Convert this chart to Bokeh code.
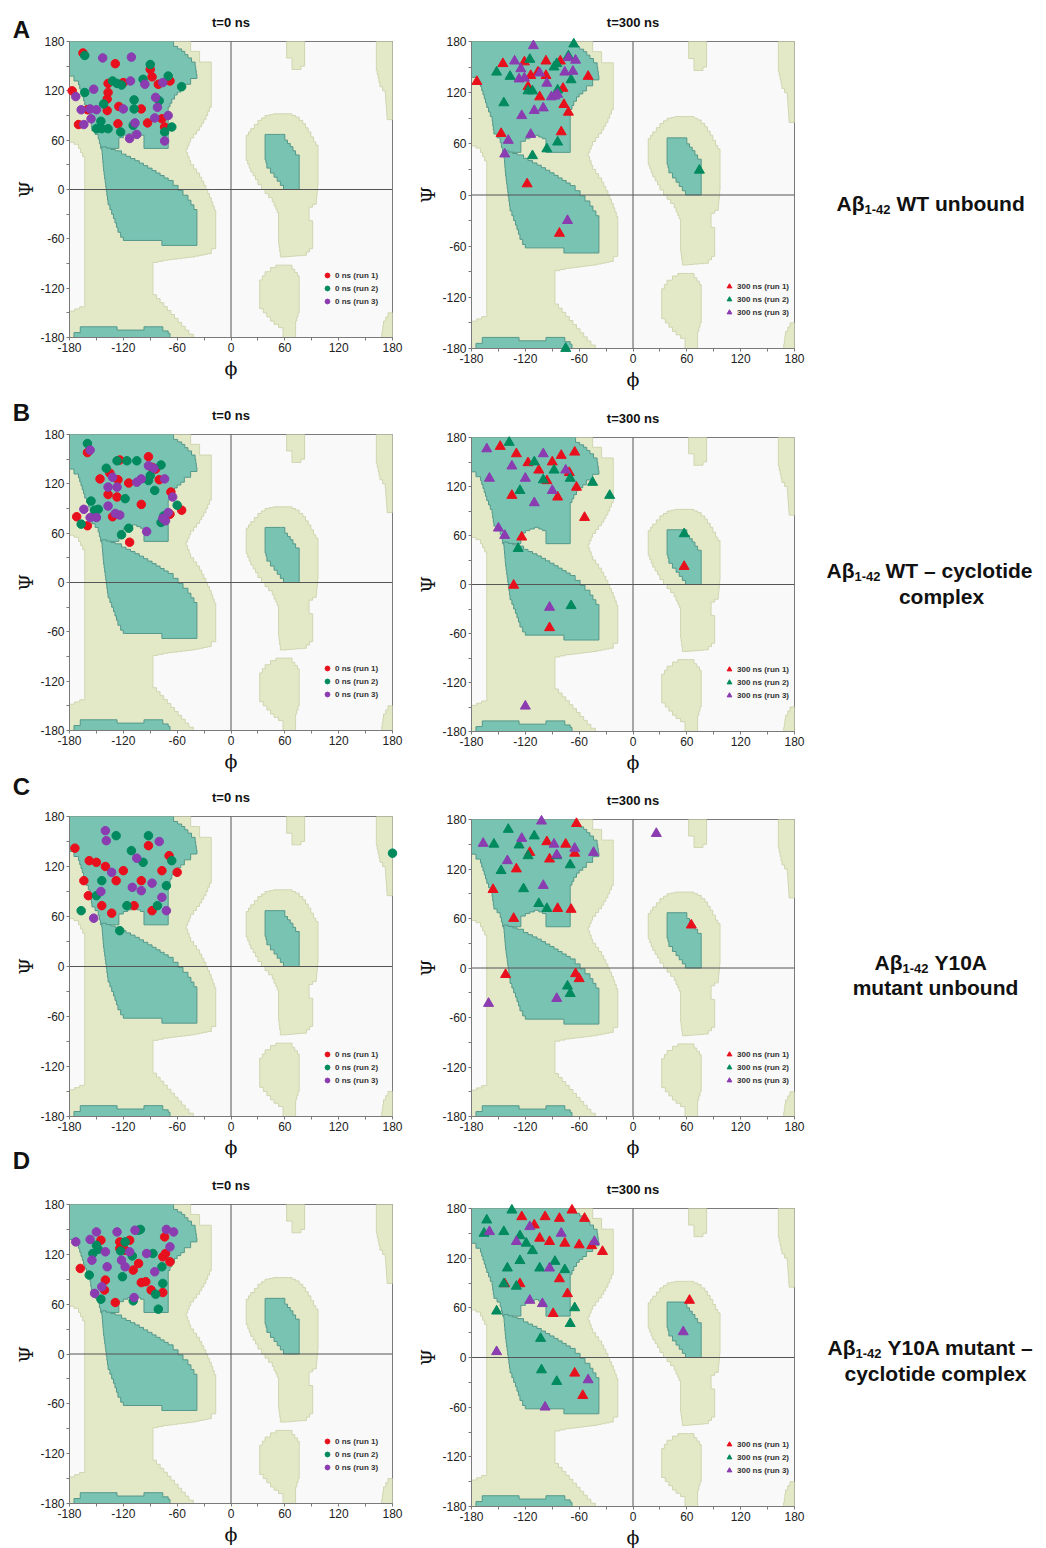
from bokeh.plotting import figure
from bokeh.models import Range1d, Label, Span, FixedTicker, Legend, LegendItem
from bokeh.layouts import row, column
from bokeh.embed import file_html
from bokeh.resources import INLINE

# ---------------- data (phi, psi in degrees) ----------------
# Panel A: Abeta1-42 WT unbound
A0_r1_phi = [-165, -129, -177, -137, -120, -137, -138, -138, -125, -100, -88, -90, -68, -81, -170, -126, -93, -77, -74, -160]
A0_r1_psi = [166, 153, 120, 129, 130, 118, 110, 96, 101, 98, 137, 146, 132, 128, 79, 80, 81, 86, 76, 97]
A0_r2_phi = [-163, -90, -127, -122, -163, -70, -55, -108, -108, -142, -145, -150, -137, -123, -109, -74, -66, -98, -144, -132, -80]
A0_r2_psi = [163, 152, 129, 127, 118, 138, 125, 109, 98, 104, 83, 74, 74, 70, 78, 70, 76, 134, 74, 132, 108]
A0_r3_phi = [-143, -111, -112, -153, -173, -167, -157, -150, -156, -164, -120, -96, -76, -84, -82, -70, -85, -107, -113, -105, -74]
A0_r3_psi = [160, 161, 132, 122, 113, 97, 98, 97, 86, 79, 98, 128, 130, 112, 100, 90, 87, 81, 62, 67, 59]

A3_r1_phi = [-174, -145, -121, -97, -81, -114, -106, -97, -117, -104, -78, -77, -72, -80, -147, -50, -118, -82]
A3_r1_psi = [133, 154, 156, 157, 157, 140, 144, 140, 127, 115, 125, 106, 97, 74, 72, 139, 13, -45]
A3_r2_phi = [-66, -152, -137, -115, -144, -85, -72, -117, -112, -84, -69, -96, -84, -112, 74, -75, -88]
A3_r2_psi = [177, 144, 139, 159, 108, 154, 163, 122, 122, 123, 135, 54, 62, 46, 29, -180, 150]
A3_r3_phi = [-111, -132, -125, -127, -121, -104, -96, -91, -87, -84, -76, -72, -64, -67, -110, -124, -100, -114, -139, -143, -73]
A3_r3_psi = [175, 157, 148, 136, 137, 143, 131, 115, 116, 118, 144, 161, 158, 145, 99, 93, 102, 71, 64, 48, -30]

# Panel B: Abeta1-42 WT - cyclotide complex
B0_r1_phi = [-160, -124, -92, -146, -135, -126, -114, -137, -127, -100, -80, -84, -67, -68, -55, -172, -160, -132, -113, -88]
B0_r1_psi = [158, 149, 153, 126, 133, 125, 121, 107, 104, 95, 125, 138, 110, 83, 88, 80, 69, 80, 49, 140]
B0_r2_phi = [-160, -139, -127, -116, -105, -78, -85, -92, -156, -148, -167, -118, -114, -122, -75, -78, -60, -152, -90]
B0_r2_psi = [169, 139, 148, 148, 148, 143, 112, 124, 99, 89, 71, 102, 66, 58, 81, 73, 94, 88, 130]
B0_r3_phi = [-157, -137, -127, -164, -157, -150, -137, -124, -129, -105, -100, -92, -86, -74, -65, -73, -70, -94, -132, -76]
B0_r3_psi = [161, 116, 116, 89, 79, 79, 93, 82, 84, 122, 126, 142, 139, 126, 104, 75, 85, 62, 128, 78]

B3_r1_phi = [-148, -130, -117, -96, -80, -65, -84, -63, -54, -71, -135, -124, -133, -93, 57, -105, -90]
B3_r1_psi = [169, 160, 149, 127, 158, 162, 107, 119, 82, 137, 109, 58, -1, -53, 22, 140, 150]
B3_r2_phi = [-138, -110, -88, -126, -128, -69, -26, 57, -100, -70, -45]
B3_r2_psi = [174, 150, 140, 115, 44, -26, 109, 62, 128, 130, 125]
B3_r3_phi = [-163, -150, -143, -93, -120, -120, -135, -110, -90, -75, -160, -100]
B3_r3_psi = [166, 69, 60, -28, -149, 130, 145, 100, 115, 140, 130, 160]

# Panel C: Abeta1-42 Y10A mutant unbound
C0_r1_phi = [-174, -158, -150, -164, -159, -144, -133, -92, -77, -100, -108, -88, -60, -69, -120, -128, -140]
C0_r1_psi = [142, 127, 125, 103, 85, 73, 64, 145, 115, 103, 73, 67, 113, 133, 115, 103, 120]
C0_r2_phi = [-128, -92, -111, -144, -150, -167, -116, -124, -72, -82, -98, -66, 180]
C0_r2_psi = [157, 157, 139, 103, 85, 67, 73, 43, 97, 73, 125, 127, 136]
C0_r3_phi = [-140, -139, -133, -77, -72, -100, -153, -110, -88, -145, -105, -80]
C0_r3_psi = [163, 151, 113, 83, 67, 91, 58, 95, 100, 90, 130, 150]

C3_r1_phi = [-63, -156, -133, -84, -69, -93, -65, -142, -64, -60, 65, -96, -75, -115, -130]
C3_r1_psi = [175, 95, 60, 72, 71, 132, 139, -8, -7, -13, 52, 153, 150, 140, 120]
C3_r2_phi = [-139, -127, -117, -147, -122, -105, -96, -73, -70, -85, -70, -155, -110]
C3_r2_psi = [168, 149, 136, 118, 96, 78, 72, -22, -31, 136, 125, 150, 160]
C3_r3_phi = [-167, -124, -102, -88, -85, -65, -44, -161, 26, -85, -100, -140]
C3_r3_psi = [151, 157, 178, 150, 137, 145, 140, -43, 163, -37, 100, 130]

# Panel D: Abeta1-42 Y10A mutant - cyclotide complex
D0_r1_phi = [-168, -145, -129, -141, -140, -124, -113, -109, -103, -100, -95, -89, -74, -76, -73, -68, -76, -124, -118]
D0_r1_psi = [103, 137, 62, 77, 89, 135, 137, 101, 109, 86, 87, 77, 141, 117, 121, 111, 74, 127, 125]
D0_r2_phi = [-150, -154, -158, -145, -118, -123, -103, -101, -121, -87, -77, -76, -84, -81, -109, -148, -110]
D0_r2_psi = [131, 121, 95, 66, 135, 124, 149, 150, 93, 121, 105, 85, 72, 54, 64, 126, 118]
D0_r3_phi = [-173, -157, -150, -155, -138, -152, -144, -127, -122, -113, -107, -94, -85, -72, -64, -68, -108, -140, -118]
D0_r3_psi = [135, 138, 147, 113, 105, 73, 81, 147, 113, 123, 149, 121, 99, 150, 147, 129, 68, 123, 105]

D3_r1_phi = [-124, -82, -68, -54, -104, -93, -76, -60, -46, -34, -143, -126, -82, -73, -89, 63, -65, -56, -98, -110]
D3_r1_psi = [170, 168, 178, 168, 144, 140, 138, 136, 135, 128, 89, 89, 95, 77, 53, 69, -19, -46, 170, 160]
D3_r2_phi = [-163, -166, -144, -135, -126, -119, -112, -126, -140, -144, -130, -104, -87, -76, -152, -103, -102, -85, -70, -65]
D3_r2_psi = [166, 150, 152, 178, 147, 138, 129, 117, 108, 89, 86, 108, 116, 106, 56, 23, -15, -29, 41, 60]
D3_r3_phi = [-160, -115, -93, -43, -115, -101, -152, -98, -50, 56, -80, -130]
D3_r3_psi = [152, 158, 108, 140, 69, 65, 7, -60, -27, 31, 150, 140]

RUN_LABELS_0 = ["0 ns (run 1)", "0 ns (run 2)", "0 ns (run 3)"]
RUN_LABELS_300 = ["300 ns (run 1)", "300 ns (run 2)", "300 ns (run 3)"]
TITLES = ["t=0 ns", "t=300 ns"]
PANEL_LETTERS = ["A", "B", "C", "D"]
AXIS_TICKS = [-180, -120, -60, 0, 60, 120, 180]
AXIS_TICK_LABELS = ["-180", "-120", "-60", "0", "60", "120", "180"]
AXIS_MINOR = [-150, -90, -30, 30, 90, 150]

# Ramachandran background regions (phi, psi outlines)
ALLOWED_MAIN = [(-180, 180), (-45, 180), (-45, 168), (-35, 168), (-35, 155), (-22, 155), (-22, 100), (-28, 85),
                (-35, 72), (-45, 58), (-50, 45), (-45, 30), (-35, 15), (-28, 0), (-22, -15), (-17, -30),
                (-17, -72), (-22, -78), (-40, -82), (-70, -86), (-87, -90), (-87, -128), (-47, -176), (-42, -180),
                (-180, -180), (-180, -148), (-163, -140), (-163, 40), (-170, 55), (-180, 60)]
ALLOWED_LHELIX = [(47, 92), (64, 92), (72, 88), (80, 80), (86, 70), (92, 58), (97, 50), (97, 5), (95, -18),
                  (87, -25), (87, -38), (91, -42), (91, -72), (84, -80), (62, -82), (55, -76), (53, -60),
                  (53, -28), (50, -20), (46, -10), (38, 0), (30, 12), (22, 26), (17, 40), (17, 66), (22, 74),
                  (30, 84), (38, 90)]
ALLOWED_LOW = [(50, -92), (62, -92), (68, -97), (74, -105), (76, -112), (76, -150), (72, -165), (72, -180),
               (58, -180), (58, -168), (48, -160), (40, -150), (32, -140), (32, -110), (38, -100), (44, -95)]
ALLOWED_TOP = [(62, 180), (82, 180), (82, 150), (78, 146), (68, 146), (68, 160), (62, 165)]
ALLOWED_EDGE = [(162, 180), (180, 180), (180, 85), (174, 90), (172, 120), (166, 130), (162, 150)]
ALLOWED_CORNER = [(180, -150), (175, -155), (170, -165), (168, -180), (180, -180)]
CORE_BETA = [(-180, 180), (-64, 180), (-64, 174), (-55, 168), (-48, 160), (-40, 150), (-38, 135), (-45, 128),
             (-52, 122), (-60, 115), (-66, 105), (-70, 96), (-70, 50), (-97, 50), (-97, 66), (-105, 70),
             (-115, 66), (-125, 60), (-125, 50), (-144, 50), (-148, 67), (-155, 76), (-157, 92), (-163, 108),
             (-170, 132), (-180, 144)]
CORE_ALPHA = [(-144, 52), (-129, 47), (-122, 43), (-107, 35), (-88, 23), (-70, 11), (-59, -1), (-48, -13),
              (-38, -30), (-38, -68), (-77, -68), (-77, -62), (-118, -62), (-120, -58), (-126, -46),
              (-131, -30), (-137, -13), (-139, 3), (-142, 27)]
CORE_BAND = [(-175, -180), (-175, -174), (-168, -174), (-168, -167), (-127, -167), (-127, -171), (-97, -171),
             (-97, -167), (-76, -167), (-76, -172), (-70, -175), (-68, -180)]
CORE_LHELIX = [(38, 67), (55, 67), (60, 60), (66, 52), (72, 42), (76, 35), (76, 0), (62, 0), (55, 10),
               (48, 20), (40, 32), (38, 40)]

RED, GREEN, PURPLE = "#e8101c", "#008a5e", "#8a3cb0"
CORE_COLOR, ALLOWED_COLOR, BG_COLOR = "#79c3b3", "#e3e9c7", "#f9f9f9"
FONT = "Liberation Sans"
SYMFONT = "DejaVu Serif"
PHI_SYM, PSI_SYM = "\u03d5", "\u03a8"


def stairs(poly, step=5.0):
    ox, oy = [], []
    n = len(poly)
    for i in range(n):
        x0, y0 = poly[i]
        x1, y1 = poly[(i + 1) % n]
        ox.append(x0); oy.append(y0)
        dx, dy = x1 - x0, y1 - y0
        if dx != 0 and dy != 0:
            k = max(1, int(round(max(abs(dx), abs(dy)) / step)))
            for j in range(1, k):
                xa = x0 + dx * j / k
                ox += [xa, xa]
                oy += [y0 + dy * (j - 1) / k, y0 + dy * j / k]
            ox.append(x1); oy.append(y0 + dy * (k - 1) / k)
    return ox, oy


ALLOWED_SET = [ALLOWED_MAIN, ALLOWED_LHELIX, ALLOWED_LOW, ALLOWED_TOP, ALLOWED_EDGE, ALLOWED_CORNER]
CORE_SET = [CORE_BETA, CORE_ALPHA, CORE_BAND, CORE_LHELIX]
FW = 323


def make_panel(fh, bl, br, bt, bb, title, series, marker, labels, size, psi_label):
    p = figure(frame_width=FW, frame_height=fh, x_range=Range1d(-180, 180), y_range=Range1d(-180, 180),
               min_border_left=bl, min_border_right=br, min_border_top=bt, min_border_bottom=bb,
               output_backend="svg", toolbar_location=None, background_fill_color=BG_COLOR,
               border_fill_color="white", outline_line_color="#7a7a7a", title=title)
    p.grid.visible = False
    p.title.align = "center"
    p.title.text_font = FONT
    p.title.text_font_size = "13px"
    p.title.text_font_style = "bold"
    p.title.text_color = "#111111"
    p.title.standoff = 24

    ax = [stairs(q)[0] for q in ALLOWED_SET]
    ay = [stairs(q)[1] for q in ALLOWED_SET]
    p.patches(ax, ay, fill_color=ALLOWED_COLOR, line_color="#cfd6b0", line_width=1)
    cx = [stairs(q)[0] for q in CORE_SET]
    cy = [stairs(q)[1] for q in CORE_SET]
    p.patches(cx, cy, fill_color=CORE_COLOR, line_color="#55988a", line_width=1)

    p.add_layout(Span(location=0, dimension="height", line_color="#555555", line_width=1))
    p.add_layout(Span(location=0, dimension="width", line_color="#555555", line_width=1))

    ticker = FixedTicker(ticks=AXIS_TICKS, minor_ticks=AXIS_MINOR)
    overrides = {t: s for t, s in zip(AXIS_TICKS, AXIS_TICK_LABELS)}
    for a in [p.xaxis[0], p.yaxis[0]]:
        a.ticker = ticker
        a.major_label_overrides = overrides
        a.major_label_text_font = FONT
        a.major_label_text_font_size = "12px"
        a.major_label_text_color = "#222222"
        a.axis_line_color = "#7a7a7a"
        a.major_tick_line_color = "#7a7a7a"
        a.minor_tick_line_color = "#7a7a7a"
        a.major_tick_out = 3
        a.major_tick_in = 0
        a.minor_tick_out = 3
        a.minor_tick_in = 0
        a.major_label_standoff = 2
        a.axis_label_text_font = SYMFONT
        a.axis_label_text_font_size = "19px"
        a.axis_label_text_font_style = "normal"
        a.axis_label_text_color = "#111111"
    p.xaxis[0].axis_label = PHI_SYM
    p.xaxis[0].axis_label_standoff = 2
    if psi_label:
        p.yaxis[0].axis_label = PSI_SYM
        p.yaxis[0].axis_label_standoff = 0

    cols = [RED, GREEN, PURPLE]
    items = []
    for (phis, psis), c, lab in zip(series, cols, labels):
        r = p.scatter(phis, psis, marker=marker, size=size, fill_color=c, line_color=c, level="overlay")
        items.append(LegendItem(label=lab, renderers=[r]))
    leg = Legend(items=items, location=(252, 30), background_fill_alpha=0, border_line_color=None,
                 label_text_font=FONT, label_text_font_size="8px", label_text_font_style="bold",
                 label_text_color="#333333", glyph_width=12, glyph_height=12, label_height=12,
                 label_standoff=2, spacing=1, padding=2, margin=0)
    p.add_layout(leg)
    return p


# layout geometry (page px, origin at top-left); frames: left column x 68-391, right column x 470-793
LEFT = [dict(h=296, bt=41, bb=48), dict(h=296, bt=49, bb=45), dict(h=300, bt=41, bb=46), dict(h=299, bt=42, bb=43)]
RIGHT = [dict(h=307, bt=41, bb=47), dict(h=294, bt=42, bb=47), dict(h=297, bt=38, bb=50), dict(h=298, bt=42, bb=43)]
LEFT_PSI_Y = [189, 582, 966, 1354]
LETTER_Y = [29, 412, 786, 1160]
TOTAL_H = 1546
LW = 37  # width of the letter strip

T0 = [
    [(A0_r1_phi, A0_r1_psi), (A0_r2_phi, A0_r2_psi), (A0_r3_phi, A0_r3_psi)],
    [(B0_r1_phi, B0_r1_psi), (B0_r2_phi, B0_r2_psi), (B0_r3_phi, B0_r3_psi)],
    [(C0_r1_phi, C0_r1_psi), (C0_r2_phi, C0_r2_psi), (C0_r3_phi, C0_r3_psi)],
    [(D0_r1_phi, D0_r1_psi), (D0_r2_phi, D0_r2_psi), (D0_r3_phi, D0_r3_psi)],
]
T300 = [
    [(A3_r1_phi, A3_r1_psi), (A3_r2_phi, A3_r2_psi), (A3_r3_phi, A3_r3_psi)],
    [(B3_r1_phi, B3_r1_psi), (B3_r2_phi, B3_r2_psi), (B3_r3_phi, B3_r3_psi)],
    [(C3_r1_phi, C3_r1_psi), (C3_r2_phi, C3_r2_psi), (C3_r3_phi, C3_r3_psi)],
    [(D3_r1_phi, D3_r1_psi), (D3_r2_phi, D3_r2_psi), (D3_r3_phi, D3_r3_psi)],
]

left_figs, right_figs = [], []
for i in range(4):
    L = LEFT[i]
    left_figs.append(make_panel(L["h"], 68 - LW, 12, L["bt"], L["bb"], TITLES[0], T0[i], "circle",
                                RUN_LABELS_0, 8.5, False))
    R = RIGHT[i]
    right_figs.append(make_panel(R["h"], 67, 14, R["bt"], R["bb"], TITLES[1], T300[i], "triangle",
                                 RUN_LABELS_300, 10, True))

# panel letters + psi labels of the left column
lf = figure(frame_width=LW, frame_height=TOTAL_H, x_range=Range1d(0, LW), y_range=Range1d(TOTAL_H, 0),
            x_axis_type=None, y_axis_type=None, min_border=0, output_backend="svg", toolbar_location=None,
            outline_line_color=None)
for letter, y in zip(PANEL_LETTERS, LETTER_Y):
    lf.add_layout(Label(x=21, y=y, text=letter, text_font=FONT, text_font_size="24px", text_font_style="bold",
                        text_align="center", text_baseline="middle", text_color="#111111"))
for y in LEFT_PSI_Y:
    lf.add_layout(Label(x=25, y=y, text=PSI_SYM, text_font=SYMFONT, text_font_size="19px", angle=1.5708,
                        text_align="center", text_baseline="middle", text_color="#111111"))

# condition labels (x 807-1043)
tf = figure(frame_width=236, frame_height=TOTAL_H, x_range=Range1d(807, 1043), y_range=Range1d(TOTAL_H, 0),
            x_axis_type=None, y_axis_type=None, min_border=0, output_backend="svg", toolbar_location=None,
            outline_line_color=None)


def txt(x, y, s, size, align="left"):
    tf.add_layout(Label(x=x, y=y, text=s, text_font=FONT, text_font_size=size, text_font_style="bold",
                        text_align=align, text_baseline="middle", text_color="#111111"))


MAIN, SUB = "21px", "13px"
# A
txt(835, 203, "A\u03b2", MAIN); txt(863, 209, "1-42", SUB); txt(895, 203, "WT unbound", MAIN)
# B
txt(825, 570, "A\u03b2", MAIN); txt(853, 576, "1-42", SUB); txt(884, 570, "WT \u2013 cyclotide", MAIN)
txt(940, 596, "complex", MAIN, "center")
# C
txt(873, 962, "A\u03b2", MAIN); txt(901, 968, "1-42", SUB); txt(933, 962, "Y10A", MAIN)
txt(934, 987, "mutant unbound", MAIN, "center")
# D
txt(826, 1347, "A\u03b2", MAIN); txt(854, 1353, "1-42", SUB); txt(886, 1347, "Y10A mutant \u2013", MAIN)
txt(934, 1373, "cyclotide complex", MAIN, "center")

layout = row(lf, column(*left_figs), column(*right_figs), tf)
open("out.html", "w").write(file_html(layout, INLINE))
